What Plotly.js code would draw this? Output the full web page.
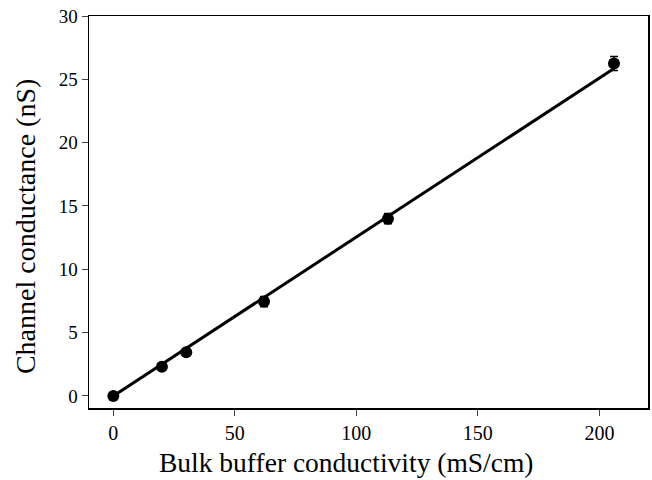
<!DOCTYPE html>
<html><head><meta charset="utf-8">
<script src="https://cdn.plot.ly/plotly-3.0.1.min.js"></script>
<style>html,body{margin:0;padding:0;background:#fff}</style>
</head><body>
<div id="chart" style="width:652px;height:480px"></div>
<script>
var conductivity = [0, 20, 30, 62, 113, 206];
var conductance = [0, 2.3, 3.45, 7.45, 14.0, 26.25];
var conductanceErr = [0.1, 0.1, 0.15, 0.4, 0.4, 0.55];
var fitX = [0, 206];
var fitY = [0, 25.85];
var xTitle = 'Bulk buffer conductivity (mS/cm)';
var yTitle = 'Channel conductance (nS)';

var traces = [
  {x: fitX, y: fitY, mode: 'lines', line: {color: '#000', width: 3}, hoverinfo: 'skip'},
  {x: conductivity, y: conductance, mode: 'markers',
   marker: {color: '#000', size: 12},
   error_y: {type: 'data', array: conductanceErr, visible: true, color: '#000', thickness: 1.5, width: 4}}
];
var fam = '"Liberation Serif", "Times New Roman", serif';
var layout = {
  width: 652, height: 480,
  margin: {l: 89, r: 4, t: 16, b: 72},
  showlegend: false,
  paper_bgcolor: '#fff', plot_bgcolor: '#fff',
  font: {family: fam, color: '#000'},
  xaxis: {range: [-10, 220], tickvals: [0, 50, 100, 150, 200], ticks: 'outside', ticklen: 6,
    showgrid: false, zeroline: false, showline: true, mirror: true, linecolor: '#000', linewidth: 1.5,
    tickfont: {size: 20, family: fam}},
  yaxis: {range: [-0.95, 30], tickvals: [0, 5, 10, 15, 20, 25, 30], ticks: 'outside', ticklen: 6,
    showgrid: false, zeroline: false, showline: true, mirror: true, linecolor: '#000', linewidth: 1.5,
    tickfont: {size: 19, family: fam}},
  annotations: [
    {text: xTitle, xref: 'paper', yref: 'paper', x: 0.4615, y: -0.140, xanchor: 'center', yanchor: 'middle',
     showarrow: false, font: {size: 27.5, family: fam, color: '#000'}},
    {text: yTitle, xref: 'paper', yref: 'paper', x: -0.1145, y: 0.464, xanchor: 'center', yanchor: 'middle',
     textangle: -90, showarrow: false, font: {size: 28, family: fam, color: '#000'}}
  ]
};
Plotly.newPlot('chart', traces, layout, {displayModeBar: false, staticPlot: true});
</script>
</body></html>
